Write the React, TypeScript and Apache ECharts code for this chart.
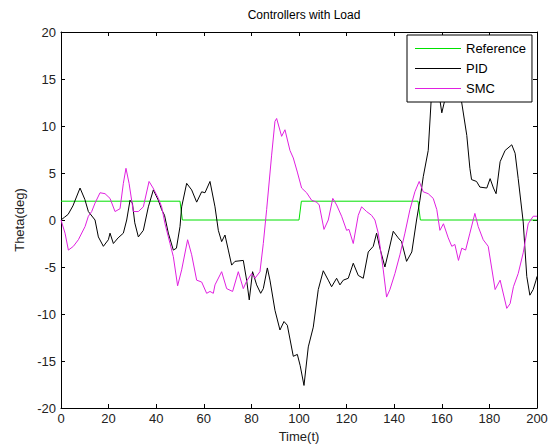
import React, { useEffect, useRef } from "react";
import * as echarts from "echarts";

const xTicks = [0, 20, 40, 60, 80, 100, 120, 140, 160, 180, 200];
const yTicks = [-20, -15, -10, -5, 0, 5, 10, 15, 20];
const seriesNames = ["Reference", "PID", "SMC"];

const refT = [0, 50, 51, 100, 101, 150, 151, 200];
const refV = [2, 2, 0, 0, 2, 2, 0, 0];

const pidT = [0, 1.5, 3, 5, 8, 10, 11.5, 14.3, 15.7, 17.8, 19.9, 20.6, 22, 24, 26.2, 27.6, 29, 30, 31, 32.5, 34.6, 36.7, 38.8, 40.9, 42.3, 43.5, 45.1, 47.2, 48.5, 50, 50.7, 52.8, 54.9, 57, 59.1, 60.5, 62.6, 64.7, 66.1, 67.5, 68.9, 70.3, 71.7, 73.1, 76.6, 78, 79.1, 80.5, 82.2, 83.9, 85, 86.7, 87.8, 89.9, 92, 93.7, 95.1, 97.6, 99.3, 100.5, 102.1, 103.9, 106, 108.1, 110.2, 112.3, 113.7, 115.8, 117.2, 118.6, 120.7, 122.8, 124.9, 127, 129.1, 131.2, 132.6, 134, 136.1, 137.5, 139.6, 141.7, 143.1, 145.2, 147.4, 149.4, 150.8, 152.2, 154.3, 155.5, 157, 158.5, 160, 161.3, 163, 165, 167, 168.3, 170.5, 171.8, 172.5, 174.6, 176, 178.9, 180.3, 181.7, 182.8, 184.5, 186.6, 189.4, 190.8, 192.1, 194.2, 195.7, 197, 198.4, 199.6, 200];
const pidV = [0, 0.3, 0.6, 1.5, 3.4, 2.2, 0.9, 0, -1.8, -2.8, -2.1, -1.4, -2.5, -1.9, -1.4, 0, 2.1, 1.8, -0.3, -1.8, -1.1, 1.4, 3.2, 2.1, 1.1, 0.5, -1.4, -3.2, -3.0, -0.7, 1.4, 3.9, 3.2, 1.9, 3.0, 2.9, 4.1, 1.4, -1.1, -2.3, -1.6, -3.2, -4.8, -4.4, -4.3, -6.4, -8.5, -5.5, -6.9, -7.8, -7.3, -5.1, -6.4, -9.6, -11.7, -10.8, -11.2, -14.5, -14.3, -15.5, -17.6, -13.5, -11.4, -7.4, -5.4, -6.4, -7.1, -6.2, -6.9, -6.4, -6.2, -4.6, -5.9, -6.2, -3.4, -2.8, -1.4, -3.0, -5.0, -3.5, -1.2, -1.9, -2.3, -4.4, -3.4, 0, 2.1, 4.6, 7.4, 12.6, 16.5, 14, 11.4, 12.8, 15, 16, 14.5, 12.6, 9.0, 5.5, 4.3, 4.1, 3.5, 3.4, 4.4, 3.4, 2.8, 6.2, 7.4, 8.0, 7.1, 4.4, -0.2, -6.0, -8.0, -7.4, -6.4, -6.0];

const smcT = [0, 1.7, 3.1, 5.2, 7.3, 10.1, 11.5, 12.9, 14.3, 16.4, 18.5, 20.6, 22.7, 24.8, 26.2, 27.3, 28.6, 30.4, 32.5, 34.6, 37, 38.7, 40.9, 42.3, 43.7, 45.8, 47.2, 49, 50.7, 53.2, 54.9, 57, 59.1, 61.2, 62.6, 64, 64.7, 67.5, 69.6, 72.1, 74.5, 76.6, 78, 80.1, 81.5, 83.6, 85, 86.4, 88.5, 89.9, 90.6, 92.7, 94.1, 96.2, 97.6, 99.3, 101.1, 103.2, 105.3, 107.4, 108.5, 110.5, 112.3, 114.2, 115.8, 117.9, 120, 121, 122.8, 124.9, 126.3, 128.4, 130.5, 131.9, 133.3, 135.4, 136.8, 138.2, 140.3, 142.4, 144.5, 146.6, 148.7, 150.5, 152.2, 154.3, 156.4, 157.9, 159.2, 160.7, 162.7, 164.2, 165.5, 167, 168.4, 170, 171.8, 173.9, 175.3, 177.4, 179.5, 182.4, 184.5, 187.3, 188.7, 190.1, 192.1, 194.2, 196.3, 198.4, 200];
const smcV = [0, -1.4, -3.2, -2.8, -2.1, -0.7, 0.4, 0.9, 1.8, 2.9, 2.8, 2.3, 0.9, 1.2, 3.9, 5.5, 3.9, 0.9, 0.9, 1.4, 4.1, 3.4, 2.3, 1.4, -0.4, -2.5, -3.9, -7.0, -5.3, -2.1, -3.7, -6.4, -6.6, -7.8, -7.6, -7.8, -6.9, -5.5, -7.3, -7.6, -5.5, -7.3, -6.5, -5.7, -6.2, -5.5, -2.5, 1.1, 6.9, 10.5, 10.8, 8.9, 9.6, 7.4, 6.6, 5.1, 3.4, 2.9, 2.1, 1.9, 1.6, -1.0, 0, 2.3, 1.6, 0.4, -1.1, -1.0, -2.5, 0.5, 1.4, 0.9, 0.5, 0, -1.4, -5.3, -8.2, -7.4, -5.7, -3.7, -1.4, 1.1, 3.0, 4.1, 3.0, 2.8, 2.3, 1.1, -1.1, -0.4, -1.9, -2.8, -2.6, -4.3, -3.0, -3.2, -1.4, 0.7, -0.7, -2.1, -2.8, -7.4, -6.4, -9.4, -8.9, -7.1, -5.7, -3.5, -0.4, 0.4, 0.4];

const zip = (t: number[], v: number[]) => t.map((x, i) => [x, v[i]]);

const FONT = "'Liberation Sans', Arial, sans-serif";

export default function App() {
  const ref = useRef<HTMLDivElement>(null);
  useEffect(() => {
    const chart = echarts.init(ref.current!, null, { renderer: "svg" });
    const axisCommon = {
      type: "value" as const,
      axisLine: { show: true, onZero: false, lineStyle: { color: "#000", width: 1 } },
      axisTick: { show: true, inside: true, length: 4, lineStyle: { color: "#000" } },
      splitLine: { show: false },
    };
    chart.setOption({
      animation: false,
      backgroundColor: "#fff",
      title: {
        text: "Controllers with Load",
        left: 299,
        top: 4,
        textAlign: "center",
        textStyle: { fontFamily: FONT, fontSize: 12, fontWeight: "normal", color: "#000" },
      },
      grid: { left: 61, top: 32, right: 15, bottom: 40 },
      legend: {
        data: seriesNames.map((n) => ({ name: n, icon: "rect" })),
        orient: "vertical",
        left: 407,
        top: 35,
        padding: [6, 6, 6, 8],
        itemGap: 5,
        itemWidth: 46,
        itemHeight: 1,
        borderColor: "#000",
        borderWidth: 1,
        borderRadius: 0,
        backgroundColor: "#fff",
        textStyle: { fontFamily: FONT, fontSize: 13, lineHeight: 15, color: "#000" },
      },
      xAxis: [
        {
          ...axisCommon,
          min: 0,
          max: 200,
          interval: 20,
          position: "bottom",
          name: "Time(t)",
          nameLocation: "middle",
          nameGap: 21,
          nameTextStyle: { fontFamily: FONT, fontSize: 13, color: "#222" },
          axisLabel: {
            fontFamily: FONT,
            fontSize: 13,
            color: "#222",
            margin: 4,
            customValues: xTicks,
          },
        },
        {
          ...axisCommon,
          min: 0,
          max: 200,
          interval: 20,
          position: "top",
          axisLabel: { show: false },
        },
      ],
      yAxis: [
        {
          ...axisCommon,
          min: -20,
          max: 20,
          interval: 5,
          position: "left",
          name: "Theta(deg)",
          nameLocation: "middle",
          nameGap: 34,
          nameTextStyle: { fontFamily: FONT, fontSize: 13, color: "#222" },
          axisLabel: {
            fontFamily: FONT,
            fontSize: 13,
            color: "#222",
            margin: 5,
            customValues: yTicks,
          },
        },
        {
          ...axisCommon,
          min: -20,
          max: 20,
          interval: 5,
          position: "right",
          axisLabel: { show: false },
        },
      ],
      series: [
        {
          name: "Reference",
          type: "line",
          data: zip(refT, refV),
          symbol: "none",
          lineStyle: { color: "#00e000", width: 1 },
          itemStyle: { color: "#00e000" },
        },
        {
          name: "PID",
          type: "line",
          data: zip(pidT, pidV),
          symbol: "none",
          lineStyle: { color: "#000", width: 1 },
          itemStyle: { color: "#000" },
        },
        {
          name: "SMC",
          type: "line",
          data: zip(smcT, smcV),
          symbol: "none",
          lineStyle: { color: "#e020e0", width: 1 },
          itemStyle: { color: "#e020e0" },
        },
      ],
    });
    return () => chart.dispose();
  }, []);
  return <div ref={ref} style={{ width: 552, height: 448, position: "absolute", left: 0, top: 0 }} />;
}
